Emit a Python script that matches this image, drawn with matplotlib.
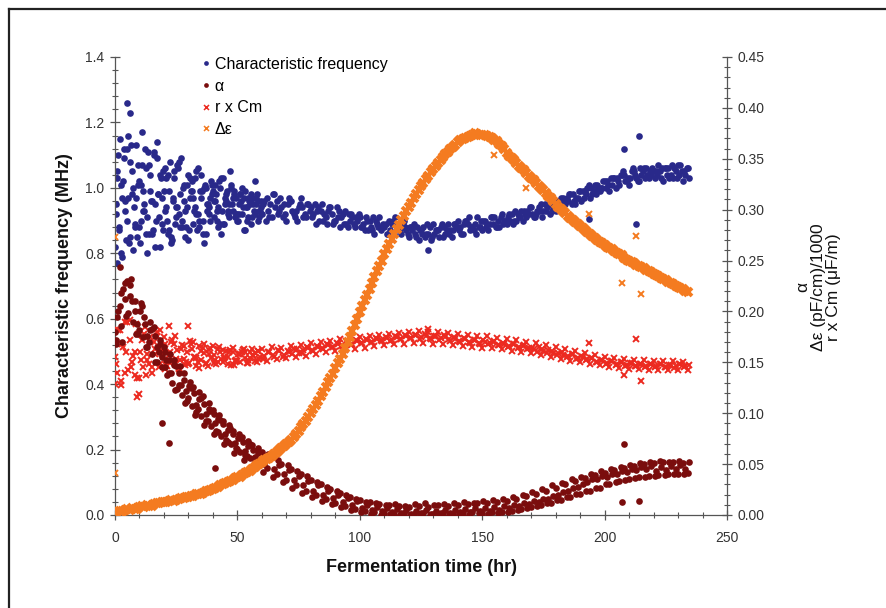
import matplotlib
matplotlib.use("Agg")
import matplotlib.pyplot as plt
from matplotlib.lines import Line2D
from matplotlib.ticker import MultipleLocator

plt.rcParams['font.family'] = ['Liberation Sans', 'DejaVu Sans']

# sampling times (hr), interleaved reading sets
t_a = list(range(0, 235, 2))
t_b = list(range(1, 234, 2))
t_c = [k + 0.5 for k in range(0, 235, 2)]
t_d = [k + 0.5 for k in range(1, 234, 2)]
t_e = [k + 0.25 for k in range(60)]    # extra early readings
t_f = [k + 0.75 for k in range(60)]

# characteristic frequency (MHz), left axis
freq_a = [0.82, 1.15, 0.93, 1.08, 0.88, 1.02, 0.95, 0.86, 1.10, 0.91,
          0.99, 0.87, 1.05, 0.92, 1.01, 0.84, 0.97, 1.06, 0.90, 0.95,
          0.99, 0.88, 1.03, 0.93, 0.97, 0.90, 1.00, 0.94, 0.91, 0.98,
          0.92, 0.97, 0.91, 0.96, 0.94, 0.90, 0.96, 0.93, 0.97, 0.91,
          0.94, 0.89, 0.93, 0.91, 0.94, 0.90, 0.88, 0.93, 0.90, 0.88,
          0.91, 0.87, 0.90, 0.86, 0.91, 0.88, 0.90, 0.86, 0.88, 0.90,
          0.85, 0.89, 0.84, 0.88, 0.86, 0.89, 0.87, 0.85, 0.89, 0.87,
          0.90, 0.86, 0.89, 0.88, 0.91, 0.87, 0.89, 0.91, 0.88, 0.92,
          0.89, 0.92, 0.90, 0.93, 0.91, 0.94, 0.92, 0.95, 0.93, 0.96,
          0.93, 0.97, 0.95, 0.98, 0.95, 0.99, 0.99, 0.97, 1.01, 0.99,
          1.02, 0.99, 1.03, 1.01, 1.04, 1.01, 1.05, 1.02, 1.06, 1.03,
          1.05, 1.07, 1.02, 1.06, 1.03, 1.07, 1.02, 1.06]
freq_b = [1.05, 0.79, 1.12, 0.98, 0.85, 1.07, 0.80, 0.96, 1.14, 0.89,
          1.03, 0.83, 0.94, 1.09, 0.88, 0.99, 0.92, 1.04, 0.86, 0.97,
          1.01, 0.89, 0.95, 1.05, 0.91, 0.98, 0.87, 0.96, 1.02, 0.93,
          0.96, 0.91, 0.98, 0.93, 0.95, 0.97, 0.92, 0.94, 0.91, 0.95,
          0.92, 0.94, 0.90, 0.93, 0.89, 0.91, 0.92, 0.88, 0.91, 0.90,
          0.88, 0.90, 0.87, 0.89, 0.88, 0.86, 0.89, 0.88, 0.86, 0.87,
          0.88, 0.85, 0.87, 0.86, 0.84, 0.87, 0.88, 0.86, 0.87, 0.89,
          0.88, 0.90, 0.87, 0.89, 0.88, 0.90, 0.89, 0.91, 0.88, 0.90,
          0.92, 0.90, 0.91, 0.93, 0.92, 0.91, 0.94, 0.93, 0.95, 0.94,
          0.95, 0.97, 0.96, 0.98, 0.97, 0.99, 1.00, 0.98, 1.01, 1.00,
          1.02, 1.01, 1.03, 1.04, 1.02, 1.05, 1.03, 1.04, 1.06, 1.04,
          1.05, 1.03, 1.06, 1.04, 1.05, 1.07, 1.04]
freq_c = [0.95, 1.01, 0.84, 1.13, 0.97, 0.90, 1.06, 0.99, 0.82, 1.04,
          0.93, 1.08, 0.89, 0.98, 0.85, 1.03, 0.94, 0.88, 1.00, 0.92,
          0.96, 1.02, 0.89, 0.95, 0.99, 0.92, 0.87, 0.97, 0.95, 0.90,
          0.95, 0.93, 0.98, 0.92, 0.91, 0.95, 0.93, 0.90, 0.94, 0.95,
          0.91, 0.93, 0.95, 0.89, 0.92, 0.94, 0.91, 0.89, 0.92, 0.91,
          0.88, 0.91, 0.88, 0.90, 0.87, 0.89, 0.87, 0.91, 0.87, 0.88,
          0.88, 0.86, 0.87, 0.85, 0.88, 0.86, 0.85, 0.88, 0.86, 0.89,
          0.87, 0.89, 0.91, 0.87, 0.88, 0.90, 0.87, 0.89, 0.90, 0.89,
          0.91, 0.89, 0.92, 0.90, 0.93, 0.92, 0.93, 0.91, 0.94, 0.93,
          0.96, 0.94, 0.97, 0.95, 0.97, 0.96, 0.98, 1.00, 0.98, 1.00,
          1.00, 1.03, 1.00, 1.04, 1.02, 1.03, 1.04, 1.06, 1.03, 1.05,
          1.03, 1.05, 1.06, 1.03, 1.06, 1.04, 1.05, 1.03]
freq_d = [0.88, 1.09, 0.97, 0.81, 1.01, 0.93, 1.11, 0.87, 0.98, 1.05,
          0.86, 0.96, 1.07, 0.90, 0.94, 1.02, 0.87, 0.99, 0.93, 1.01,
          0.93, 0.86, 0.98, 1.01, 0.92, 0.96, 0.94, 0.89, 0.97, 0.94,
          0.90, 0.95, 0.94, 0.97, 0.92, 0.96, 0.91, 0.95, 0.92, 0.93,
          0.95, 0.90, 0.92, 0.94, 0.90, 0.93, 0.89, 0.92, 0.89, 0.92,
          0.89, 0.87, 0.91, 0.88, 0.89, 0.86, 0.90, 0.88, 0.89, 0.86,
          0.87, 0.88, 0.86, 0.89, 0.85, 0.87, 0.89, 0.87, 0.85, 0.88,
          0.86, 0.90, 0.88, 0.86, 0.90, 0.88, 0.91, 0.88, 0.91, 0.90,
          0.90, 0.93, 0.91, 0.92, 0.94, 0.91, 0.93, 0.95, 0.92, 0.95,
          0.95, 0.96, 0.98, 0.96, 0.99, 0.97, 1.01, 0.99, 1.00, 1.02,
          1.01, 1.03, 1.02, 1.05, 1.03, 1.06, 1.02, 1.05, 1.04, 1.06,
          1.04, 1.06, 1.04, 1.07, 1.03, 1.05, 1.06]
freq_e = [0.92, 1.10, 0.80, 1.02, 0.96, 1.16, 0.85, 1.00, 0.89, 1.07,
          0.83, 0.99, 1.12, 0.91, 1.04, 0.86, 0.95, 1.09, 0.82, 0.97,
          1.06, 0.90, 0.99, 0.84, 1.03, 0.94, 1.08, 0.88, 0.96, 1.01,
          0.87, 0.99, 0.93, 1.05, 0.90, 0.97, 0.83, 1.00, 0.94, 1.02,
          0.91, 0.98, 0.94, 1.03, 0.89, 0.96, 0.92, 1.00, 0.93, 0.97,
          0.90, 0.98, 0.94, 0.99, 0.91, 0.95, 0.97, 0.92, 0.96, 0.93]
freq_f = [1.03, 0.87, 0.97, 1.12, 0.90, 0.83, 1.05, 0.94, 1.13, 0.88,
          1.01, 0.93, 0.86, 1.07, 0.96, 1.11, 0.90, 0.98, 1.03, 0.87,
          0.94, 1.04, 0.85, 0.97, 0.91, 1.06, 0.88, 1.00, 0.93, 1.04,
          0.97, 0.89, 1.03, 0.92, 0.99, 0.86, 1.01, 0.95, 0.90, 0.98,
          0.96, 0.90, 1.00, 0.93, 0.97, 0.99, 0.91, 0.95, 0.98, 0.92,
          0.95, 0.92, 0.97, 0.90, 0.96, 0.98, 0.93, 0.95, 0.91, 0.96]
freq_out_t = [1, 5, 6, 11, 128, 193.5, 208, 213, 214]
freq_out = [0.77, 1.26, 1.23, 1.17, 0.81, 0.905, 1.12, 0.89, 1.16]

# alpha, right axis
alpha_a = [0.180, 0.205, 0.228, 0.215, 0.200, 0.182, 0.195, 0.170, 0.185, 0.160,
           0.165, 0.140, 0.152, 0.128, 0.140, 0.115, 0.126, 0.104, 0.117, 0.092,
           0.103, 0.082, 0.092, 0.072, 0.083, 0.065, 0.077, 0.058, 0.069, 0.052,
           0.062, 0.046, 0.057, 0.040, 0.050, 0.034, 0.045, 0.029, 0.040, 0.024,
           0.034, 0.020, 0.030, 0.016, 0.026, 0.012, 0.022, 0.009, 0.018, 0.006,
           0.015, 0.004, 0.013, 0.003, 0.011, 0.002, 0.010, 0.001, 0.009, 0.002,
           0.008, 0.001, 0.009, 0.002, 0.008, 0.001, 0.010, 0.002, 0.009, 0.001,
           0.010, 0.002, 0.011, 0.003, 0.012, 0.002, 0.012, 0.003, 0.013, 0.003,
           0.014, 0.004, 0.016, 0.006, 0.019, 0.008, 0.021, 0.010, 0.024, 0.012,
           0.027, 0.015, 0.030, 0.018, 0.033, 0.021, 0.036, 0.024, 0.039, 0.027,
           0.041, 0.030, 0.044, 0.033, 0.046, 0.035, 0.048, 0.037, 0.050, 0.038,
           0.051, 0.039, 0.052, 0.040, 0.052, 0.040, 0.051, 0.041]
alpha_b = [0.195, 0.170, 0.230, 0.210, 0.188, 0.205, 0.176, 0.183, 0.165, 0.155,
           0.152, 0.140, 0.146, 0.128, 0.122, 0.125, 0.108, 0.115, 0.099, 0.102,
           0.090, 0.093, 0.080, 0.085, 0.071, 0.076, 0.063, 0.070, 0.057, 0.062,
           0.050, 0.055, 0.045, 0.049, 0.040, 0.044, 0.034, 0.038, 0.029, 0.033,
           0.024, 0.029, 0.020, 0.024, 0.017, 0.020, 0.013, 0.017, 0.010, 0.014,
           0.007, 0.010, 0.005, 0.008, 0.004, 0.007, 0.003, 0.006, 0.002, 0.005,
           0.001, 0.004, 0.002, 0.005, 0.001, 0.004, 0.002, 0.005, 0.002, 0.005,
           0.003, 0.006, 0.003, 0.007, 0.004, 0.007, 0.004, 0.008, 0.005, 0.009,
           0.007, 0.010, 0.009, 0.012, 0.011, 0.014, 0.013, 0.016, 0.016, 0.019,
           0.020, 0.023, 0.024, 0.027, 0.028, 0.030, 0.032, 0.035, 0.035, 0.038,
           0.037, 0.040, 0.040, 0.043, 0.042, 0.045, 0.044, 0.047, 0.045, 0.048,
           0.043, 0.047, 0.044, 0.048, 0.045, 0.049, 0.045]
alpha_c = [0.172, 0.218, 0.196, 0.232, 0.178, 0.208, 0.165, 0.190, 0.150, 0.172,
           0.145, 0.158, 0.123, 0.146, 0.110, 0.131, 0.098, 0.121, 0.088, 0.110,
           0.080, 0.098, 0.070, 0.088, 0.061, 0.080, 0.054, 0.073, 0.048, 0.066,
           0.042, 0.060, 0.037, 0.054, 0.032, 0.049, 0.027, 0.043, 0.022, 0.038,
           0.018, 0.032, 0.014, 0.028, 0.011, 0.024, 0.008, 0.020, 0.005, 0.016,
           0.003, 0.013, 0.001, 0.012, 0.000, 0.010, 0.001, 0.011, 0.000, 0.009,
           0.000, 0.011, 0.001, 0.012, 0.000, 0.010, 0.001, 0.011, 0.000, 0.012,
           0.001, 0.013, 0.000, 0.012, 0.002, 0.014, 0.001, 0.015, 0.002, 0.016,
           0.003, 0.018, 0.005, 0.020, 0.007, 0.023, 0.009, 0.026, 0.012, 0.029,
           0.015, 0.031, 0.018, 0.035, 0.021, 0.037, 0.024, 0.040, 0.027, 0.043,
           0.030, 0.045, 0.032, 0.047, 0.034, 0.049, 0.036, 0.051, 0.037, 0.052,
           0.038, 0.053, 0.039, 0.052, 0.040, 0.053, 0.040, 0.052]
alpha_e = [0.168, 0.200, 0.186, 0.222, 0.212, 0.198, 0.226, 0.190, 0.210, 0.178,
           0.200, 0.175, 0.188, 0.165, 0.182, 0.158, 0.176, 0.150, 0.168, 0.145,
           0.160, 0.138, 0.152, 0.130, 0.147, 0.124, 0.140, 0.118, 0.133, 0.112,
           0.127, 0.107, 0.120, 0.101, 0.114, 0.097, 0.109, 0.092, 0.104, 0.087,
           0.099, 0.083, 0.094, 0.078, 0.089, 0.074, 0.084, 0.070, 0.080, 0.066,
           0.076, 0.062, 0.072, 0.059, 0.068, 0.056, 0.064, 0.052, 0.061, 0.050]
alpha_out_t = [2, 19, 22, 41, 207, 208, 214]
alpha_out = [0.244, 0.090, 0.071, 0.046, 0.013, 0.070, 0.014]

# r x Cm, right axis
rcm_a = [0.155, 0.182, 0.140, 0.192, 0.160, 0.135, 0.178, 0.148, 0.170, 0.145,
         0.175, 0.150, 0.168, 0.143, 0.166, 0.148, 0.170, 0.150, 0.164, 0.146,
         0.166, 0.150, 0.162, 0.148, 0.164, 0.151, 0.160, 0.149, 0.163, 0.150,
         0.163, 0.151, 0.165, 0.153, 0.164, 0.154, 0.166, 0.155, 0.167, 0.156,
         0.169, 0.158, 0.170, 0.160, 0.171, 0.161, 0.173, 0.162, 0.174, 0.163,
         0.175, 0.164, 0.176, 0.166, 0.177, 0.167, 0.178, 0.168, 0.179, 0.168,
         0.180, 0.169, 0.181, 0.169, 0.180, 0.168, 0.180, 0.168, 0.179, 0.167,
         0.178, 0.166, 0.177, 0.165, 0.176, 0.164, 0.176, 0.164, 0.174, 0.163,
         0.173, 0.161, 0.172, 0.160, 0.170, 0.159, 0.169, 0.157, 0.167, 0.155,
         0.165, 0.153, 0.163, 0.151, 0.161, 0.150, 0.159, 0.148, 0.157, 0.147,
         0.155, 0.145, 0.154, 0.144, 0.153, 0.143, 0.152, 0.143, 0.152, 0.142,
         0.151, 0.142, 0.151, 0.142, 0.151, 0.142, 0.150, 0.142]
rcm_b = [0.140, 0.168, 0.190, 0.150, 0.135, 0.172, 0.158, 0.145, 0.180, 0.162,
         0.147, 0.170, 0.153, 0.163, 0.150, 0.168, 0.154, 0.161, 0.149, 0.164,
         0.152, 0.160, 0.155, 0.162, 0.151, 0.158, 0.160, 0.154, 0.159, 0.153,
         0.156, 0.160, 0.155, 0.161, 0.157, 0.160, 0.163, 0.159, 0.162, 0.164,
         0.161, 0.165, 0.163, 0.167, 0.165, 0.168, 0.166, 0.169, 0.168, 0.171,
         0.169, 0.172, 0.170, 0.173, 0.171, 0.174, 0.172, 0.175, 0.173, 0.176,
         0.174, 0.177, 0.175, 0.176, 0.173, 0.176, 0.174, 0.175, 0.171, 0.173,
         0.170, 0.173, 0.169, 0.172, 0.168, 0.170, 0.169, 0.171, 0.167, 0.168,
         0.166, 0.168, 0.165, 0.167, 0.164, 0.163, 0.165, 0.161, 0.162, 0.159,
         0.159, 0.157, 0.156, 0.158, 0.154, 0.155, 0.153, 0.154, 0.150, 0.152,
         0.149, 0.151, 0.148, 0.150, 0.147, 0.149, 0.146, 0.148, 0.146, 0.148,
         0.146, 0.148, 0.145, 0.147, 0.146, 0.148, 0.146]
rcm_c = [0.170, 0.128, 0.160, 0.145, 0.188, 0.152, 0.138, 0.175, 0.158, 0.182,
         0.143, 0.160, 0.176, 0.152, 0.147, 0.171, 0.155, 0.144, 0.168, 0.158,
         0.149, 0.165, 0.154, 0.160, 0.147, 0.158, 0.163, 0.152, 0.157, 0.161,
         0.153, 0.160, 0.157, 0.162, 0.155, 0.161, 0.158, 0.163, 0.159, 0.165,
         0.162, 0.166, 0.164, 0.168, 0.165, 0.169, 0.166, 0.171, 0.167, 0.172,
         0.169, 0.173, 0.170, 0.174, 0.172, 0.175, 0.171, 0.176, 0.173, 0.177,
         0.174, 0.177, 0.173, 0.178, 0.174, 0.176, 0.172, 0.177, 0.173, 0.175,
         0.171, 0.174, 0.170, 0.172, 0.169, 0.172, 0.168, 0.170, 0.167, 0.169,
         0.165, 0.168, 0.164, 0.166, 0.163, 0.164, 0.160, 0.163, 0.159, 0.161,
         0.157, 0.160, 0.155, 0.158, 0.153, 0.156, 0.152, 0.154, 0.150, 0.152,
         0.148, 0.151, 0.147, 0.150, 0.146, 0.149, 0.146, 0.148, 0.145, 0.148,
         0.145, 0.148, 0.145, 0.147, 0.144, 0.148, 0.145, 0.147]
rcm_e = [0.148, 0.182, 0.132, 0.165, 0.190, 0.142, 0.172, 0.156, 0.138, 0.178,
         0.160, 0.145, 0.185, 0.152, 0.170, 0.140, 0.163, 0.176, 0.148, 0.158,
         0.168, 0.146, 0.157, 0.172, 0.150, 0.162, 0.144, 0.167, 0.153, 0.160,
         0.149, 0.163, 0.155, 0.146, 0.166, 0.152, 0.159, 0.148, 0.162, 0.154,
         0.157, 0.148, 0.163, 0.153, 0.150, 0.161, 0.155, 0.147, 0.160, 0.152,
         0.158, 0.150, 0.162, 0.154, 0.149, 0.160, 0.156, 0.151, 0.161, 0.155]
rcm_out_t = [0, 9, 10, 22, 30, 128, 193.5, 208, 213, 215]
rcm_out = [0.129, 0.116, 0.119, 0.186, 0.186, 0.183, 0.169, 0.138, 0.173, 0.132]

# delta epsilon, right axis
deps_a = [0.003, 0.004, 0.005, 0.005, 0.006, 0.008, 0.008, 0.009, 0.011, 0.012,
          0.013, 0.014, 0.014, 0.016, 0.017, 0.018, 0.019, 0.021, 0.022, 0.024,
          0.026, 0.028, 0.030, 0.032, 0.034, 0.037, 0.039, 0.042, 0.045, 0.049,
          0.052, 0.055, 0.058, 0.062, 0.066, 0.070, 0.074, 0.080, 0.086, 0.092,
          0.100, 0.108, 0.117, 0.126, 0.135, 0.144, 0.153, 0.164, 0.175, 0.187,
          0.199, 0.211, 0.222, 0.234, 0.245, 0.256, 0.266, 0.276, 0.285, 0.294,
          0.303, 0.311, 0.319, 0.326, 0.333, 0.340, 0.346, 0.352, 0.357, 0.362,
          0.366, 0.369, 0.371, 0.373, 0.374, 0.373, 0.372, 0.370, 0.367, 0.363,
          0.356, 0.351, 0.346, 0.341, 0.336, 0.331, 0.326, 0.321, 0.316, 0.311,
          0.306, 0.301, 0.297, 0.292, 0.288, 0.284, 0.280, 0.276, 0.272, 0.268,
          0.265, 0.262, 0.259, 0.256, 0.253, 0.250, 0.248, 0.245, 0.243, 0.240,
          0.237, 0.235, 0.232, 0.229, 0.227, 0.224, 0.222, 0.219]
deps_b = [0.004, 0.003, 0.006, 0.007, 0.006, 0.009, 0.010, 0.009, 0.012, 0.013,
          0.013, 0.015, 0.015, 0.017, 0.018, 0.019, 0.021, 0.021, 0.024, 0.025,
          0.027, 0.029, 0.031, 0.033, 0.036, 0.037, 0.041, 0.043, 0.047, 0.050,
          0.054, 0.056, 0.060, 0.064, 0.068, 0.072, 0.077, 0.083, 0.089, 0.096,
          0.104, 0.112, 0.121, 0.131, 0.139, 0.149, 0.158, 0.170, 0.181, 0.193,
          0.205, 0.216, 0.228, 0.240, 0.250, 0.261, 0.271, 0.281, 0.290, 0.299,
          0.307, 0.315, 0.323, 0.330, 0.337, 0.343, 0.349, 0.355, 0.360, 0.364,
          0.368, 0.370, 0.372, 0.375, 0.373, 0.373, 0.371, 0.368, 0.365, 0.360,
          0.353, 0.349, 0.343, 0.339, 0.333, 0.329, 0.323, 0.319, 0.313, 0.309,
          0.303, 0.299, 0.294, 0.290, 0.286, 0.282, 0.278, 0.274, 0.270, 0.267,
          0.263, 0.261, 0.257, 0.255, 0.251, 0.249, 0.246, 0.244, 0.241, 0.239,
          0.236, 0.233, 0.231, 0.228, 0.225, 0.223, 0.220]
deps_out_t = [0, 0, 155, 168, 193.5, 207, 213, 215]
deps_out = [0.041, 0.273, 0.354, 0.321, 0.296, 0.228, 0.274, 0.217]

c_freq = '#29298a'
c_alpha = '#7a0d0d'
c_rcm = '#ec2a20'
c_deps = '#f47b20'

fig = plt.figure(figsize=(8.86, 6.08), dpi=100)
ax = fig.add_axes([115 / 886, 1 - 515 / 608, 612 / 886, 458 / 608])
ax2 = ax.twinx()

dot = dict(linestyle='none', marker='o', markersize=4.8, markeredgewidth=0)
cross = dict(linestyle='none', marker='x', markersize=4.6, markeredgewidth=1.4)
small_dot = dict(linestyle='none', marker='o', markersize=3.4, markeredgewidth=0)
small_cross = dict(linestyle='none', marker='x', markersize=3.6, markeredgewidth=1.1)
thick_cross = dict(linestyle='none', marker='x', markersize=6.2, markeredgewidth=2.8)

for tt, vv in [(t_a, freq_a), (t_b, freq_b), (t_c, freq_c), (t_d, freq_d),
               (t_e, freq_e), (t_f, freq_f), (freq_out_t, freq_out)]:
    ax.plot(tt, vv, color=c_freq, **dot)

for tt, vv in [(t_a, rcm_a), (t_b, rcm_b), (t_c, rcm_c), (t_e, rcm_e),
               (rcm_out_t, rcm_out)]:
    ax2.plot(tt, vv, color=c_rcm, **cross)

for tt, vv in [(t_a, alpha_a), (t_b, alpha_b), (t_c, alpha_c), (t_e, alpha_e),
               (alpha_out_t, alpha_out)]:
    ax2.plot(tt, vv, color=c_alpha, **dot)

ax2.plot(t_a, deps_a, color=c_deps, **thick_cross)
ax2.plot(t_b, deps_b, color=c_deps, **thick_cross)
ax2.plot(deps_out_t, deps_out, color=c_deps, **cross)

ax.set_xlim(0, 250)
ax.set_ylim(0, 1.4)
ax2.set_ylim(0, 0.45)

ax.xaxis.set_major_locator(MultipleLocator(50))
ax.xaxis.set_minor_locator(MultipleLocator(10))
ax.yaxis.set_major_locator(MultipleLocator(0.2))
ax.yaxis.set_minor_locator(MultipleLocator(0.04))
ax2.yaxis.set_major_locator(MultipleLocator(0.05))
ax2.yaxis.set_minor_locator(MultipleLocator(0.01))
ax.yaxis.set_major_formatter(lambda v, p: f'{v:.1f}')
ax2.yaxis.set_major_formatter(lambda v, p: f'{v:.2f}')

spine_c = '#555555'
for a in (ax, ax2):
    for s in a.spines.values():
        s.set_color(spine_c)
        s.set_linewidth(0.9)
    a.spines['top'].set_visible(False)
    a.tick_params(which='major', direction='inout', length=7, width=0.9,
                  color=spine_c, labelsize=10, labelcolor='#333333')
    a.tick_params(which='minor', direction='inout', length=4, width=0.8, color=spine_c)
ax.spines['right'].set_visible(False)
ax2.spines['left'].set_visible(False)
ax2.spines['bottom'].set_visible(False)
ax.tick_params(axis='x', which='major', pad=8)
ax.tick_params(axis='y', which='major', pad=4)
ax2.tick_params(axis='y', which='major', pad=4)

fig.text(65 / 886, 1 - 286 / 608, 'Characteristic frequency (MHz)', rotation=90,
         ha='center', va='center', fontsize=13, fontweight='bold', color='#111111')
fig.text(421 / 886, 1 - 568 / 608, 'Fermentation time (hr)',
         ha='center', va='center', fontsize=13, fontweight='bold', color='#111111')
fig.text(818 / 886, 1 - 287 / 608, 'α\nΔε (pF/cm)/1000\nr x Cm (μF/m)', rotation=90,
         ha='center', va='center', multialignment='center', fontsize=12.5,
         linespacing=1.05, color='#111111')

handles = [
    Line2D([], [], color=c_freq, **small_dot),
    Line2D([], [], color=c_alpha, **small_dot),
    Line2D([], [], color=c_rcm, **small_cross),
    Line2D([], [], color=c_deps, **small_cross),
]
labels = ['Characteristic frequency', 'α', 'r x Cm', 'Δε']
ax2.legend(handles, labels, loc='upper left', bbox_to_anchor=(202 / 886, 1 - 57 / 608),
           bbox_transform=fig.transFigure, frameon=False, fontsize=11.5,
           handlelength=0.5, handletextpad=0.3, labelspacing=0.41, borderpad=0,
           borderaxespad=0)

# outer frame (top and left edges)
fig.add_artist(Line2D([9 / 886, 9 / 886], [0, 1 - 9 / 608], transform=fig.transFigure,
                      color='#222222', linewidth=1.6))
fig.add_artist(Line2D([9 / 886, 1], [1 - 9 / 608, 1 - 9 / 608], transform=fig.transFigure,
                      color='#222222', linewidth=1.6))

fig.savefig('out.png', dpi=100)
